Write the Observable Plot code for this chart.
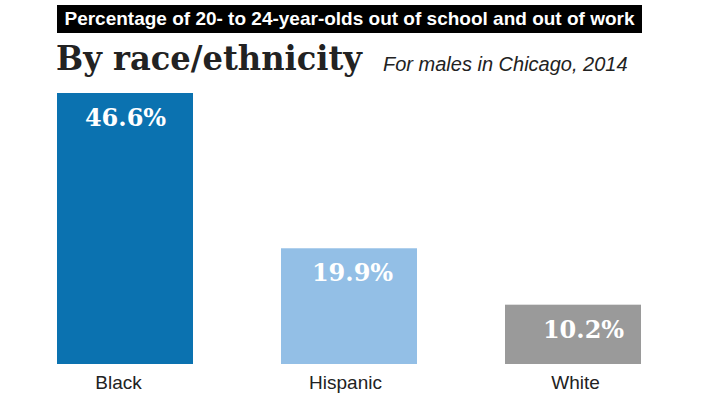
<!DOCTYPE html>
<html>
<head>
<meta charset="utf-8">
<script src="https://cdn.jsdelivr.net/npm/d3@7"></script>
<script src="https://cdn.jsdelivr.net/npm/@observablehq/plot@0.6"></script>
<style>
  body { margin: 0; background: #fff; width: 702px; height: 395px; position: relative; overflow: hidden; }
  #banner { position: absolute; left: 57px; top: 5px; width: 585px; height: 28px; background: #000; color: #fff;
    font: bold 19px "Liberation Sans", Arial, sans-serif; line-height: 28px; text-align: center; white-space: nowrap; }
  #title { position: absolute; left: 56px; top: 36px; font: bold 34px "DejaVu Serif", Georgia, serif; color: #222; white-space: nowrap; line-height: 44px; transform-origin: 0 0; }
  #subtitle { position: absolute; left: 383px; top: 52px; font: italic 20px "Liberation Sans", Arial, sans-serif; color: #222; white-space: nowrap; line-height: 24px; }
  #chart { position: absolute; left: 0; top: 0; }
</style>
</head>
<body>
<div id="chart"></div>
<div id="banner"></div>
<div id="title"></div>
<div id="subtitle"></div>
<script>
const bannerText = "Percentage of 20- to 24-year-olds out of school and out of work";
const titleText = "By race/ethnicity";
const subtitleText = "For males in Chicago, 2014";
const categories = ["Black", "Hispanic", "White"];
const values = [46.6, 19.9, 10.2];
const valueLabels = ["46.6%", "19.9%", "10.2%"];
const colors = ["#0b72b0", "#93bfe6", "#9a9a9a"];

document.getElementById("banner").textContent = bannerText;
const titleEl = document.getElementById("title");
titleEl.textContent = titleText;
document.getElementById("subtitle").textContent = subtitleText;
{
  const w = titleEl.getBoundingClientRect().width;
  titleEl.style.transform = `scaleX(${306 / w})`;
}

const data = categories.map((c, i) => ({category: c, value: values[i], label: valueLabels[i]}));
const labelDx = {Black: 0, Hispanic: 3, White: 10};
const catDx = {Black: -7, Hispanic: -4, White: 2};

const chart = Plot.plot({
  width: 702,
  height: 395,
  marginLeft: 57,
  marginRight: 61,
  marginTop: 93,
  marginBottom: 31,
  style: {background: "transparent"},
  x: {domain: categories, paddingInner: 0.393, paddingOuter: 0, axis: null},
  y: {domain: [0, 46.6], axis: null},
  color: {domain: categories, range: colors},
  marks: [
    Plot.barY(data, {x: "category", y: "value", fill: "category"}),
    ...categories.map(c => Plot.text(data.filter(d => d.category === c), {
      x: "category", y: "value", text: "label", dy: 25, dx: labelDx[c],
      fill: "#fff", fontSize: 24, fontWeight: "bold",
      fontFamily: "'DejaVu Serif', Georgia, serif"
    })),
    ...categories.map(c => Plot.text(data.filter(d => d.category === c), {
      x: "category", y: 0, text: "category", dy: 18, dx: catDx[c],
      fill: "#222", fontSize: 19,
      fontFamily: "'Liberation Sans', Arial, sans-serif"
    }))
  ]
});
document.getElementById("chart").appendChild(chart);
</script>
</body>
</html>
